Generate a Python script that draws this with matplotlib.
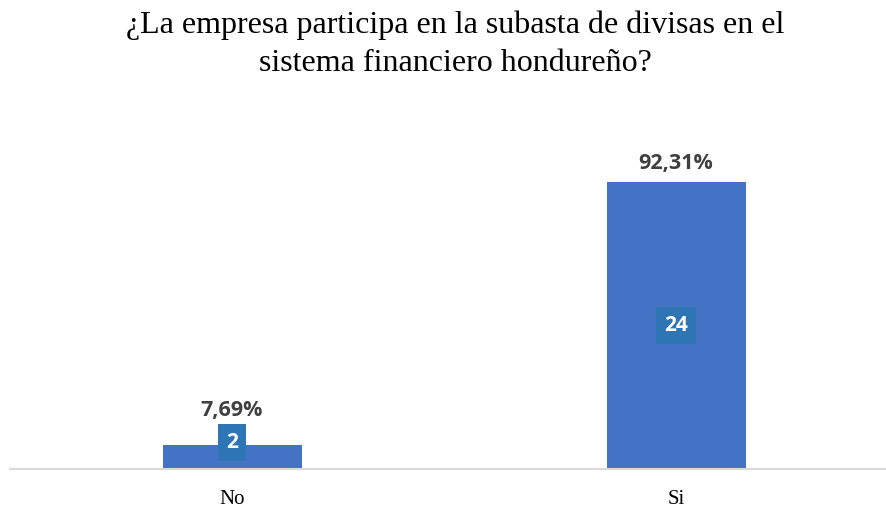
import matplotlib
matplotlib.use("Agg")
import matplotlib.pyplot as plt

categories = ["No", "Si"]
counts = [2, 24]
percents = [7.69, 92.31]

title = "¿La empresa participa en la subasta de divisas en el\nsistema financiero hondureño?"

bar_color = "#4472C4"
box_color = "#2E75B6"
pct_color = "#404040"

fig = plt.figure(figsize=(8.87, 5.08), dpi=100)
ax = fig.add_axes([10 / 887, 39 / 508, 877 / 887, 0.612])

x = list(range(len(categories)))
ax.bar(x, percents, width=0.313, color=bar_color, zorder=2)

for xi, v, n in zip(x, percents, counts):
    # count label inside the bar, pushed up when the bar is too short
    inner_y = max(v / 2, 8.4)
    ax.text(xi, inner_y, str(n), ha="center", va="center", color="white",
            fontsize=15, fontweight="bold", family="Open Sans", zorder=3,
            bbox=dict(boxstyle="square,pad=0.38", fc=box_color, ec="none"))
    top = max(v, inner_y + 4.6)
    ax.annotate(f"{v:.2f}".replace(".", ",") + "%", (xi, top),
                xytext=(0, 13.2), textcoords="offset points",
                ha="center", va="center", color=pct_color,
                fontsize=15.5, fontweight="bold", family="Open Sans")

ax.set_xlim(-0.5, 1.475)
ax.set_ylim(0, 100)
ax.set_xticks(x)
ax.set_xticklabels(categories, family="Liberation Serif", fontsize=15)
ax.tick_params(axis="x", length=0, pad=15)
ax.set_yticks([])
for s in ["top", "left", "right"]:
    ax.spines[s].set_visible(False)
ax.spines["bottom"].set_color("#D9D9D9")
ax.spines["bottom"].set_linewidth(1.5)

fig.text(0.513, 0.913, title, ha="center", va="center", fontsize=23,
         family="Liberation Serif", linespacing=1.38)

fig.savefig("out.png", dpi=100)
